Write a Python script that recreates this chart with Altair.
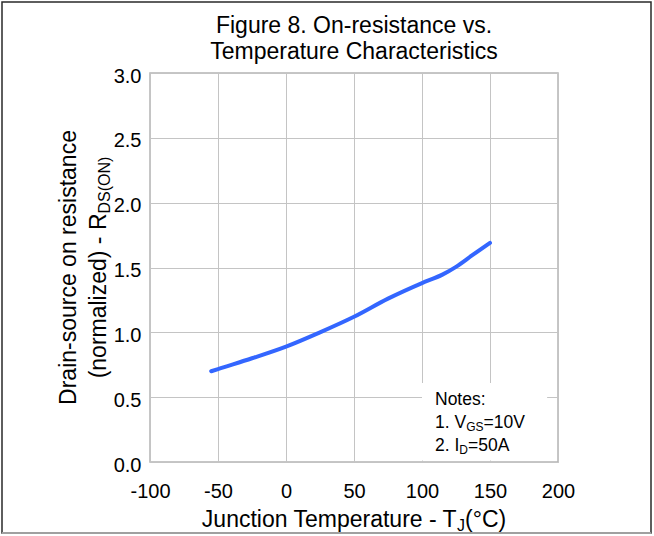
import altair as alt
import pandas as pd

# ---------------- data ----------------
temps = [-55, -50, -25, 0, 25, 50, 75, 100, 115, 125, 137, 150]
rds_norm = [0.70, 0.717, 0.80, 0.89, 1.00, 1.12, 1.26, 1.38, 1.445, 1.505, 1.595, 1.69]
x_ticks = [-100, -50, 0, 50, 100, 150, 200]
y_ticks = [0.0, 0.5, 1.0, 1.5, 2.0, 2.5, 3.0]
title_lines = ["Figure 8. On-resistance vs.", "Temperature Characteristics"]
ytitle_line1 = "Drain-source on resistance"
ytitle_line2 = ["(normalized) - R", "DS(ON)"]
xtitle = ["Junction Temperature - T", "J", "(\u00b0C)"]
notes = [["Notes:"], ["1. V", "GS", "=10V"], ["2. I", "D", "=50A"]]

df = pd.DataFrame({"T": temps, "R": rds_norm})
one = pd.DataFrame({"k": [0]})

FONT = "Liberation Sans, Arial, sans-serif"
PAD_L, PAD_T, W, H = 150, 73, 408, 389

# Arial advance widths (per 1000 em) for layout of subscript runs
AW = {' ': 278, '.': 278, '-': 333, '(': 333, ')': 333, '=': 584, ':': 278, '\u00b0': 400,
      'A': 667, 'C': 722, 'D': 722, 'F': 611, 'G': 778, 'I': 278, 'J': 500, 'N': 722,
      'O': 778, 'R': 722, 'S': 667, 'T': 611, 'V': 667,
      'a': 556, 'c': 500, 'd': 556, 'e': 556, 'g': 556, 'h': 556, 'i': 222, 'l': 222,
      'm': 833, 'n': 556, 'o': 556, 'p': 556, 'r': 333, 's': 500, 't': 278, 'u': 556,
      'v': 500, 'z': 500}


def tw(s, size):
    return sum(AW.get(c, 556) for c in s) * size / 1000.0


def txt(s, x, y, size, align="left", angle=0):
    kw = dict(text=s, fontSize=size, font=FONT, color="black", align=align,
              baseline="alphabetic")
    if angle:
        kw["angle"] = angle
    return alt.Chart(one).mark_text(**kw).encode(x=alt.value(x), y=alt.value(y))


layers = []

# frame around the whole figure
layers.append(alt.Chart(one).mark_rect(fill=None, stroke="#2a2a2a", strokeWidth=1.5).encode(
    x=alt.value(-148), x2=alt.value(501), y=alt.value(-71), y2=alt.value(460)))
layers.append(alt.Chart(one).mark_rule(stroke="#a0a0a0", strokeWidth=2).encode(
    x=alt.value(-148), x2=alt.value(501), y=alt.value(460)))

# curve
line = alt.Chart(df).mark_line(color="#3366ff", strokeWidth=4, interpolate="monotone",
                               strokeCap="round").encode(
    x=alt.X("T:Q", scale=alt.Scale(domain=[-100, 200], nice=False),
            axis=alt.Axis(values=x_ticks, title=None, labelFontSize=20, labelFont=FONT,
                          labelColor="black", ticks=False, domain=False, labelPadding=19,
                          gridColor="#c4c4c4", gridWidth=1, labelFlush=False,
                          labelExpr="(datum.value < 0 ? '-' : '') + abs(datum.value)")),
    y=alt.Y("R:Q", scale=alt.Scale(domain=[0, 3], nice=False),
            axis=alt.Axis(values=y_ticks, format=".1f", title=None, labelFontSize=20,
                          labelFont=FONT, labelColor="black", ticks=False, domain=False,
                          labelPadding=9, labelOffset=3, gridColor="#c4c4c4", gridWidth=1,
                          labelFlush=False)),
)
layers.append(line)

# notes box (white, hides grid)
layers.append(alt.Chart(one).mark_rect(fill="white").encode(
    x=alt.datum(100), x2=alt.datum(192), y=alt.datum(0.012), y2=alt.datum(0.61)))

# main title
layers.append(txt(title_lines[0], W / 2, -40.5, 23, align="center"))
layers.append(txt(title_lines[1], W / 2, -14.5, 23, align="center"))

# y title
layers.append(txt(ytitle_line1, -74, H / 2, 23, align="center", angle=270))
w_main = tw(ytitle_line2[0], 23)
w_sub = tw(ytitle_line2[1], 16)
y_start = H / 2 + (w_main + w_sub) / 2
layers.append(txt(ytitle_line2[0], -44, y_start, 23, angle=270))
layers.append(txt(ytitle_line2[1], -40, y_start - w_main, 16, angle=270))

# x title
sizes = [23, 16, 23]
total = sum(tw(s, z) for s, z in zip(xtitle, sizes))
x0 = W / 2 - total / 2 + 1.5
for k, (s, z) in enumerate(zip(xtitle, sizes)):
    layers.append(txt(s, x0 - (3 if k > 0 else 0), 454 + (4 if z == 16 else 0), z))
    x0 += tw(s, z)

# notes
nx = 285
for i, parts in enumerate(notes):
    by = 332 + i * 23
    x0 = nx
    for j, s in enumerate(parts):
        sub = (j == 1)
        z = 12 if sub else 17.5
        layers.append(txt(s, x0, by + (3 if sub else 0), z))
        x0 += tw(s, z)

chart = alt.layer(*layers).properties(
    width=W, height=H,
    autosize=alt.AutoSizeParams(type="none"),
    padding={"left": PAD_L, "top": PAD_T, "right": 654 - PAD_L - W, "bottom": 536 - PAD_T - H},
    background="white",
).configure_view(stroke="#b4b4b4", strokeWidth=1.5)

chart.save("out.html", embed_options={"renderer": "svg", "actions": False})
